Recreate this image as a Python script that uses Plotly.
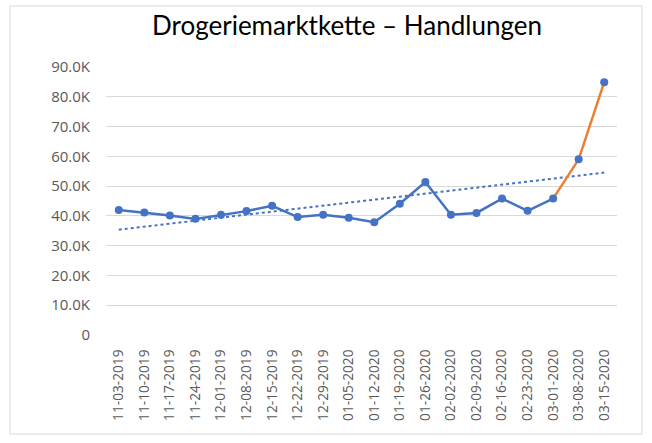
import numpy as np
import plotly.graph_objects as go

dates = ["11-03-2019", "11-10-2019", "11-17-2019", "11-24-2019", "12-01-2019",
         "12-08-2019", "12-15-2019", "12-22-2019", "12-29-2019", "01-05-2020",
         "01-12-2020", "01-19-2020", "01-26-2020", "02-02-2020", "02-09-2020",
         "02-16-2020", "02-23-2020", "03-01-2020", "03-08-2020", "03-15-2020"]
values = [42000, 41100, 40100, 39000, 40400, 41600, 43400, 39600, 40400, 39400,
          37900, 44100, 51400, 40400, 41000, 45800, 41700, 45800, 59000, 84900]
split_index = 17  # orange segment starts here

y_tickvals = [0, 10000, 20000, 30000, 40000, 50000, 60000, 70000, 80000, 90000]
y_ticktext = ["0", "10.0K", "20.0K", "30.0K", "40.0K", "50.0K", "60.0K", "70.0K", "80.0K", "90.0K"]

BLUE = "#4472C4"
ORANGE = "#ED7D31"

W, H = 652, 443
L, R, T, B = 106, 35, 67, 108

idx = np.arange(len(values))
slope, intercept = np.polyfit(idx, values, 1)
trend = slope * idx + intercept

fig = go.Figure()
# trendline
fig.add_trace(go.Scatter(x=dates, y=trend, mode="lines",
                         line=dict(color=BLUE, width=2, dash="dot"),
                         hoverinfo="skip", showlegend=False))
# orange segment
fig.add_trace(go.Scatter(x=dates[split_index:], y=values[split_index:], mode="lines",
                         line=dict(color=ORANGE, width=2.5), showlegend=False))
# blue segment
fig.add_trace(go.Scatter(x=dates[:split_index + 1], y=values[:split_index + 1], mode="lines",
                         line=dict(color=BLUE, width=2.5), showlegend=False))
# markers
fig.add_trace(go.Scatter(x=dates, y=values, mode="markers",
                         marker=dict(color=BLUE, size=8), showlegend=False))

pw = W - L - R
ph = H - T - B
def px_x(p):
    return (p - L) / pw
def px_y(p):
    return (H - B - p) / ph

fig.add_shape(type="rect", xref="paper", yref="paper",
              x0=px_x(10), x1=px_x(642), y0=px_y(434), y1=px_y(6),
              line=dict(color="#D9D9D9", width=1), fillcolor="rgba(0,0,0,0)", layer="below")

fig.update_layout(
    width=W, height=H,
    margin=dict(l=L, r=R, t=T, b=B),
    paper_bgcolor="white", plot_bgcolor="white",
    title=dict(text="Drogeriemarktkette – Handlungen", x=347 / W,
               xanchor="center", y=1 - 26 / H, yanchor="middle",
               font=dict(family="Lato", size=26, color="#000000")),
    font=dict(family="Open Sans", color="#595959"),
)
fig.update_xaxes(type="category", range=[-0.5, len(dates) - 0.5],
                 tickangle=-90, tickfont=dict(size=13.7, color="#595959"),
                 showgrid=False, showline=False, zeroline=False,
                 ticks="outside", ticklen=8, tickcolor="rgba(0,0,0,0)")
fig.update_yaxes(range=[0, 90000], tickvals=y_tickvals, ticktext=y_ticktext,
                 tickfont=dict(size=15, color="#595959"),
                 showgrid=True, gridcolor="#D9D9D9", gridwidth=1,
                 zeroline=False, showline=False,
                 ticks="outside", ticklen=12, tickcolor="rgba(0,0,0,0)")

fig.write_html("out.html")
